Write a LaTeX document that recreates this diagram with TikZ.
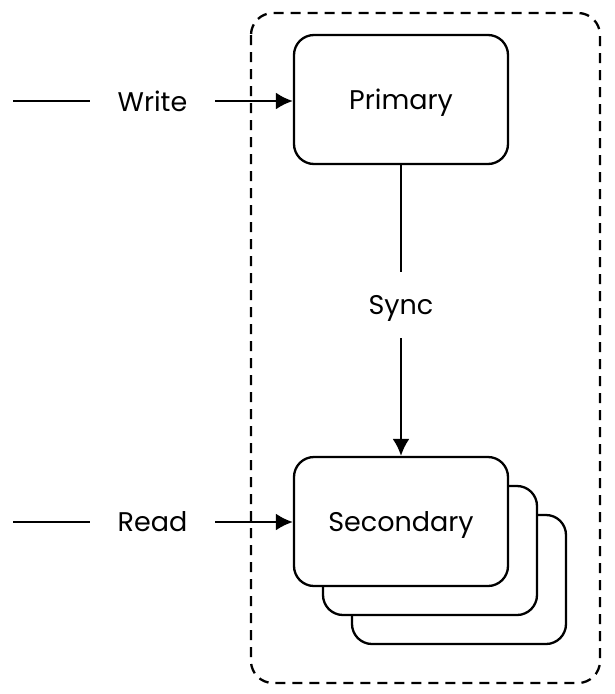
\documentclass[tikz,border=0pt]{standalone}
\usepackage{fontspec}
\setmainfont{Poppins}
\usetikzlibrary{arrows.meta}
\tikzset{
  box/.style={draw, line width=2.3pt, rounded corners=20pt, fill=white,
    minimum width=214pt, minimum height=129pt, inner sep=0pt, text depth=0pt},
  lbl/.style={inner sep=0pt, minimum width=125pt, text depth=0pt},
  flow/.style={line width=2.3pt, -{Latex[length=17pt,width=17pt]}},
  plain/.style={line width=2.3pt}
}
\begin{document}
\begin{tikzpicture}[x=1pt, y=-1pt, font=\fontsize{27}{32}\selectfont]
  \useasboundingbox (0,0) rectangle (615,694);
  % replica group
  \draw[line width=2.3pt, dash pattern=on 10pt off 7pt, rounded corners=22pt]
    (251,13) rectangle (600,683);
  \node[box] (primary) at (401,99.5) {Primary};
  \node[box] (sec3) at (459,579.5) {};
  \node[box] (sec2) at (430,550.5) {};
  \node[box] (secondary) at (401,521.5) {Secondary};
  % clients
  \coordinate (wstart) at (13,101);
  \node[lbl] (write) at (152.5,101) {Write};
  \draw[plain] (wstart) -- (write.west);
  \draw[flow] (write.east) -- (primary.west |- write.east);
  \coordinate (rstart) at (13,522);
  \node[lbl] (read) at (152.5,522) {Read};
  \draw[plain] (rstart) -- (read.west);
  \draw[flow] (read.east) -- (secondary.west |- read.east);
  % replication
  \node[inner sep=0pt, text depth=0pt, minimum height=66pt] (sync) at (401,305) {Sync};
  \draw[plain] (primary.south) -- (sync.north);
  \draw[flow] (sync.south) -- (secondary.north);
\end{tikzpicture}
\end{document}
